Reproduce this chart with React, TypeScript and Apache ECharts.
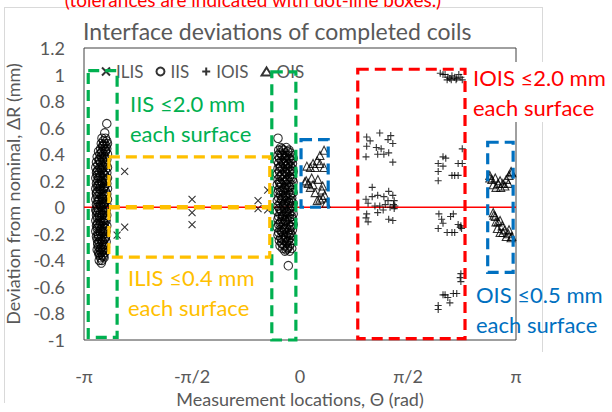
import React, { useEffect, useRef } from "react";
import * as echarts from "echarts";

const PI = Math.PI;
const TITLE = "Interface deviations of completed coils";
const NOTE = "(tolerances are indicated with dot-line boxes.)";
const X_NAME = "Measurement locations, Θ (rad)";
const Y_NAME = "Deviation from nominal, ΔR (mm)";
const X_TICK_LABELS = ["-π", "-π/2", "0", "π/2", "π"];
const SERIES_NAMES = ["ILIS", "IIS", "IOIS", "OIS"];

// ILIS (x markers)
const ILIS: number[][] = [
  [-2.55, 0.27], [-2.55, -0.15], [-2.66, -0.21], [-1.57, 0.06], [-1.57, -0.04],
  [-1.57, -0.13], [-0.47, 0.13], [-0.61, 0.05], [-0.61, -0.01], [-0.47, -0.02],
];

// IIS (circles) cluster near -pi
const IIS_A: number[][] = [
  [-2.81, 0.63], [-2.84, 0.56], [-2.83, 0.52], [-2.88, 0.52], [-2.81, 0.50], [-2.86, 0.50],
  [-2.84, 0.48], [-2.89, 0.48], [-2.80, 0.48], [-2.82, 0.46], [-2.87, 0.46],
  [-2.85, 0.44], [-2.90, 0.44], [-2.81, 0.44], [-2.83, 0.42], [-2.88, 0.42], [-2.93, 0.42],
  [-2.80, 0.40], [-2.86, 0.40], [-2.91, 0.40], [-2.84, 0.38], [-2.89, 0.38], [-2.95, 0.38],
  [-2.81, 0.36], [-2.87, 0.36], [-2.92, 0.36], [-2.85, 0.34], [-2.90, 0.34], [-2.96, 0.34],
  [-2.82, 0.32], [-2.88, 0.32], [-2.94, 0.32],
  [-2.80, 0.30], [-2.86, 0.30], [-2.91, 0.30], [-2.97, 0.30],
  [-2.83, 0.28], [-2.89, 0.28], [-2.94, 0.28],
  [-2.81, 0.26], [-2.87, 0.26], [-2.92, 0.26], [-2.96, 0.26],
  [-2.84, 0.24], [-2.90, 0.24], [-2.95, 0.24],
  [-2.80, 0.22], [-2.86, 0.22], [-2.93, 0.22], [-2.97, 0.22],
  [-2.83, 0.20], [-2.89, 0.20], [-2.94, 0.20],
  [-2.81, 0.18], [-2.87, 0.18], [-2.91, 0.18], [-2.96, 0.18],
  [-2.84, 0.16], [-2.90, 0.16], [-2.95, 0.16],
  [-2.80, 0.14], [-2.86, 0.14], [-2.92, 0.14], [-2.97, 0.14],
  [-2.83, 0.12], [-2.88, 0.12], [-2.94, 0.12],
  [-2.81, 0.10], [-2.86, 0.10], [-2.91, 0.10], [-2.96, 0.10],
  [-2.84, 0.08], [-2.89, 0.08], [-2.95, 0.08],
  [-2.80, 0.06], [-2.87, 0.06], [-2.92, 0.06], [-2.97, 0.06],
  [-2.83, 0.04], [-2.88, 0.04], [-2.94, 0.04],
  [-2.81, 0.02], [-2.86, 0.02], [-2.91, 0.02], [-2.96, 0.02],
  [-2.84, 0.00], [-2.89, 0.00], [-2.95, 0.00],
  [-2.82, -0.02], [-2.87, -0.02], [-2.93, -0.02], [-2.97, -0.02],
  [-2.85, -0.04], [-2.90, -0.04], [-2.94, -0.04],
  [-2.81, -0.06], [-2.88, -0.06], [-2.92, -0.06], [-2.96, -0.06],
  [-2.84, -0.08], [-2.89, -0.08], [-2.95, -0.08],
  [-2.82, -0.10], [-2.86, -0.10], [-2.91, -0.10], [-2.97, -0.10],
  [-2.85, -0.12], [-2.90, -0.12], [-2.94, -0.12],
  [-2.81, -0.14], [-2.87, -0.14], [-2.92, -0.14], [-2.96, -0.14],
  [-2.84, -0.16], [-2.89, -0.16], [-2.95, -0.16],
  [-2.82, -0.18], [-2.86, -0.18], [-2.91, -0.18], [-2.97, -0.18],
  [-2.85, -0.20], [-2.90, -0.20], [-2.94, -0.20],
  [-2.83, -0.22], [-2.88, -0.22], [-2.93, -0.22], [-2.96, -0.22],
  [-2.85, -0.24], [-2.90, -0.24], [-2.95, -0.24],
  [-2.82, -0.26], [-2.87, -0.26], [-2.92, -0.26],
  [-2.85, -0.28], [-2.89, -0.28], [-2.94, -0.28],
  [-2.83, -0.30], [-2.88, -0.30], [-2.93, -0.30],
  [-2.86, -0.32], [-2.91, -0.32], [-2.95, -0.32],
  [-2.84, -0.34], [-2.89, -0.34], [-2.93, -0.34],
  [-2.87, -0.36], [-2.92, -0.36], [-2.85, -0.38], [-2.90, -0.38],
  [-2.88, -0.40], [-2.92, -0.40], [-2.89, -0.42],
  [-2.86, 0.47], [-2.83, 0.43], [-2.89, 0.41], [-2.85, 0.37], [-2.92, 0.35], [-2.83, 0.33],
  [-2.88, 0.29], [-2.95, 0.27], [-2.85, 0.25], [-2.91, 0.23], [-2.82, 0.21], [-2.88, 0.19],
  [-2.93, 0.17], [-2.85, 0.15], [-2.90, 0.13], [-2.96, 0.11], [-2.82, 0.09], [-2.87, 0.07],
  [-2.93, 0.05], [-2.85, 0.03], [-2.90, 0.01], [-2.82, -0.01], [-2.96, -0.03], [-2.87, -0.05],
  [-2.92, -0.07], [-2.83, -0.09], [-2.88, -0.11], [-2.95, -0.13], [-2.84, -0.15], [-2.90, -0.17],
  [-2.87, -0.19], [-2.93, -0.21], [-2.83, -0.23], [-2.88, -0.25], [-2.94, -0.27], [-2.86, -0.29],
  [-2.90, -0.31], [-2.87, -0.33], [-2.91, -0.35], [-2.86, -0.37],
];

// IIS cluster just below 0
const IIS_B: number[][] = [
  [-0.32, 0.52], [-0.17, -0.44],
  [-0.28, 0.45], [-0.20, 0.45],
  [-0.31, 0.43], [-0.24, 0.43], [-0.16, 0.43],
  [-0.29, 0.41], [-0.22, 0.41], [-0.14, 0.41],
  [-0.32, 0.39], [-0.26, 0.39], [-0.19, 0.39], [-0.12, 0.39],
  [-0.30, 0.37], [-0.23, 0.37], [-0.16, 0.37], [-0.10, 0.37],
  [-0.33, 0.35], [-0.27, 0.35], [-0.20, 0.35], [-0.13, 0.35],
  [-0.31, 0.33], [-0.24, 0.33], [-0.17, 0.33], [-0.11, 0.33],
  [-0.28, 0.31], [-0.21, 0.31], [-0.14, 0.31],
  [-0.32, 0.29], [-0.25, 0.29], [-0.18, 0.29], [-0.11, 0.29],
  [-0.30, 0.27], [-0.23, 0.27], [-0.16, 0.27], [-0.10, 0.27],
  [-0.33, 0.25], [-0.26, 0.25], [-0.19, 0.25], [-0.12, 0.25],
  [-0.29, 0.23], [-0.22, 0.23], [-0.15, 0.23],
  [-0.32, 0.21], [-0.25, 0.21], [-0.18, 0.21], [-0.11, 0.21],
  [-0.30, 0.19], [-0.23, 0.19], [-0.16, 0.19], [-0.10, 0.19],
  [-0.33, 0.17], [-0.27, 0.17], [-0.20, 0.17], [-0.13, 0.17],
  [-0.29, 0.15], [-0.22, 0.15], [-0.15, 0.15],
  [-0.31, 0.13], [-0.25, 0.13], [-0.18, 0.13], [-0.11, 0.13],
  [-0.32, 0.11], [-0.24, 0.11], [-0.17, 0.11], [-0.10, 0.11],
  [-0.28, 0.09], [-0.21, 0.09], [-0.14, 0.09],
  [-0.31, 0.07], [-0.25, 0.07], [-0.19, 0.07], [-0.12, 0.07],
  [-0.33, 0.05], [-0.26, 0.05], [-0.20, 0.05], [-0.13, 0.05],
  [-0.29, 0.03], [-0.22, 0.03], [-0.15, 0.03], [-0.10, 0.03],
  [-0.32, 0.01], [-0.24, 0.01], [-0.17, 0.01], [-0.11, 0.01],
  [-0.30, -0.01], [-0.23, -0.01], [-0.16, -0.01],
  [-0.33, -0.03], [-0.27, -0.03], [-0.20, -0.03], [-0.13, -0.03],
  [-0.29, -0.05], [-0.22, -0.05], [-0.15, -0.05], [-0.10, -0.05],
  [-0.31, -0.07], [-0.25, -0.07], [-0.18, -0.07], [-0.12, -0.07],
  [-0.32, -0.09], [-0.26, -0.09], [-0.19, -0.09], [-0.11, -0.09],
  [-0.28, -0.11], [-0.21, -0.11], [-0.14, -0.11],
  [-0.31, -0.13], [-0.24, -0.13], [-0.17, -0.13], [-0.10, -0.13],
  [-0.33, -0.15], [-0.26, -0.15], [-0.20, -0.15], [-0.13, -0.15],
  [-0.29, -0.17], [-0.22, -0.17], [-0.15, -0.17], [-0.11, -0.17],
  [-0.31, -0.19], [-0.25, -0.19], [-0.18, -0.19],
  [-0.32, -0.21], [-0.24, -0.21], [-0.16, -0.21], [-0.12, -0.21],
  [-0.28, -0.23], [-0.21, -0.23], [-0.14, -0.23],
  [-0.30, -0.25], [-0.23, -0.25], [-0.17, -0.25], [-0.11, -0.25],
  [-0.27, -0.27], [-0.20, -0.27], [-0.13, -0.27],
  [-0.29, -0.29], [-0.22, -0.29], [-0.15, -0.29],
  [-0.25, -0.31], [-0.18, -0.31], [-0.12, -0.31],
  [-0.22, -0.33], [-0.15, -0.33],
  [-0.26, 0.44], [-0.18, 0.42], [-0.27, 0.40], [-0.21, 0.38], [-0.14, 0.36], [-0.25, 0.34],
  [-0.18, 0.32], [-0.29, 0.30], [-0.14, 0.28], [-0.21, 0.26], [-0.27, 0.24], [-0.13, 0.22],
  [-0.20, 0.20], [-0.29, 0.18], [-0.16, 0.16], [-0.23, 0.14], [-0.28, 0.12], [-0.14, 0.10],
  [-0.21, 0.08], [-0.27, 0.06], [-0.17, 0.04], [-0.24, 0.02], [-0.13, 0.00], [-0.28, -0.02],
  [-0.19, -0.04], [-0.25, -0.06], [-0.15, -0.08], [-0.22, -0.10], [-0.29, -0.12], [-0.14, -0.14],
  [-0.23, -0.16], [-0.27, -0.18], [-0.14, -0.20], [-0.20, -0.22], [-0.26, -0.24], [-0.19, -0.26],
  [-0.25, -0.28], [-0.18, -0.30], [-0.20, -0.32],
];

// IOIS (plus markers)
const IOIS: number[][] = [
  [1.16, 0.56], [0.97, 0.53], [1.02, 0.50], [1.32, 0.54], [1.28, 0.51], [1.35, 0.48],
  [0.97, 0.46], [1.11, 0.45], [1.18, 0.44], [0.96, 0.38], [1.13, 0.40], [1.22, 0.40],
  [1.29, 0.41], [1.35, 0.34],
  [1.05, 0.15], [0.96, 0.06], [1.05, 0.08], [1.13, 0.09], [1.22, 0.08], [1.29, 0.12],
  [1.35, 0.09], [1.28, 0.05], [1.37, 0.05], [0.99, 0.03], [1.09, 0.01], [1.16, 0.01],
  [1.24, 0.02], [1.31, 0.00], [1.38, 0.01], [0.97, -0.05], [1.13, -0.04], [1.21, -0.02],
  [0.96, -0.08], [0.99, -0.11], [1.29, -0.09], [1.35, -0.10], [1.36, 0.02], [1.37, -0.01],
  [2.04, 1.01], [2.08, 1.00], [2.11, 1.00], [2.15, 0.98], [2.18, 0.97], [2.21, 0.99],
  [2.25, 0.98], [2.28, 0.97], [2.31, 1.00], [2.34, 0.98], [2.36, 0.96], [2.14, 0.96],
  [2.20, 0.96], [2.27, 0.96],
  [2.36, 0.44], [2.08, 0.38], [2.12, 0.37], [2.01, 0.33], [2.08, 0.31], [2.30, 0.33],
  [2.36, 0.33], [2.01, 0.27], [2.21, 0.24], [2.25, 0.24], [2.30, 0.24], [2.01, 0.20],
  [2.02, -0.05], [2.23, -0.05], [2.06, -0.09], [2.19, -0.07], [2.08, -0.12], [2.01, -0.16],
  [2.30, -0.13], [2.33, -0.15], [2.14, -0.19], [2.21, -0.19], [2.25, -0.19], [2.35, -0.16],
  [2.34, -0.14],
  [2.33, -0.53], [2.34, -0.56], [2.34, -0.50], [2.08, -0.66], [2.15, -0.68], [2.23, -0.65],
  [2.28, -0.65], [2.18, -0.72], [2.01, -0.74], [2.01, -0.77], [2.11, -0.66],
];

// OIS (triangles)
const OIS: number[][] = [
  [0.35, 0.43], [0.29, 0.39], [0.25, 0.35], [0.19, 0.33], [0.10, 0.31], [0.22, 0.30],
  [0.15, 0.30], [0.29, 0.33], [0.09, 0.20], [0.12, 0.18], [0.19, 0.17], [0.26, 0.21],
  [0.32, 0.13], [0.36, 0.09], [0.22, 0.11], [0.15, 0.15], [0.38, 0.03], [0.29, 0.06],
  [0.35, 0.30], [0.17, 0.22], [0.07, 0.19], [0.33, 0.16], [0.25, 0.05], [0.33, 0.07],
  [2.76, 0.24], [2.79, 0.21], [2.84, 0.22], [2.88, 0.18], [2.91, 0.20], [2.95, 0.18],
  [3.00, 0.21], [3.04, 0.24], [3.07, 0.27], [2.85, 0.15], [2.92, 0.15], [2.98, 0.16],
  [2.81, 0.17], [3.03, 0.18], [3.08, 0.26], [2.76, 0.22],
  [2.81, -0.04], [2.84, -0.07], [2.88, -0.11], [2.94, -0.14], [2.98, -0.17], [3.03, -0.20],
  [3.07, -0.23], [2.91, -0.19], [2.87, -0.16], [2.82, -0.06], [2.95, -0.19], [3.04, -0.17],
  [3.00, -0.22], [3.08, -0.22], [2.91, -0.10], [2.85, -0.11],
];

// Tolerance boxes [x0, x1, y0, y1] in data units
const BOX_RANGES: number[][] = [
  [-3.08, -2.66, -0.98, 1.03],
  [-0.41, -0.06, -1.0, 1.02],
  [-2.78, -0.44, -0.375, 0.38],
  [0.015, 0.41, 0.0, 0.51],
  [0.84, 2.4, -0.99, 1.04],
  [2.73, 3.1, -0.49, 0.49],
];
const BOX_COLORS = ["#00B050", "#00B050", "#FFC000", "#0070C0", "#FF0000", "#0070C0"];
const ORANGE_MID: number[][] = [[-2.78, 0], [-0.44, 0]];
const ZERO_LINE: number[][] = [[-PI, 0], [PI, 0]];

const FONT = "Lato, 'Open Sans', sans-serif";
const GRAY = "#595959";

export default function App() {
  const ref = useRef<HTMLDivElement>(null);
  useEffect(() => {
    if (!ref.current) return;
    const chart = echarts.init(ref.current, undefined, { renderer: "svg" });
    const symbolBase = {
      type: "scatter" as const,
      z: 3,
      itemStyle: { color: "transparent", borderColor: "#000", borderWidth: 1.1 },
    };
    const option: any = {
      animation: false,
      textStyle: { fontFamily: FONT },
      grid: {
        left: 84, top: 48, width: 432, height: 292, show: true, containLabel: false,
        outerBoundsMode: "none",
        borderColor: "#404040", borderWidth: 1, backgroundColor: "transparent",
      },
      legend: {
        data: SERIES_NAMES,
        left: 101, top: 63, padding: 0, itemGap: 12, itemWidth: 10, itemHeight: 8,
        textStyle: { color: GRAY, fontSize: 17, fontFamily: FONT },
      },
      xAxis: {
        type: "value", min: -PI, max: PI, interval: PI / 2,
        axisLine: { show: false }, axisTick: { show: false }, splitLine: { show: false },
        axisLabel: {
          color: GRAY, fontSize: 18, margin: 27, fontFamily: FONT,
          formatter: (v: number) => {
            const k = Math.round(v / (PI / 2)) + 2;
            return X_TICK_LABELS[k] ?? "";
          },
        },
        name: X_NAME, nameLocation: "middle", nameGap: 49,
        nameTextStyle: { color: GRAY, fontSize: 18, fontFamily: FONT },
      },
      yAxis: {
        type: "value", min: -1, max: 1.2, interval: 0.2,
        axisLine: { show: false }, axisTick: { show: false }, splitLine: { show: false },
        axisLabel: {
          color: GRAY, fontSize: 18, margin: 19, fontFamily: FONT,
          formatter: (v: number) => String(Number(v.toFixed(1))),
        },
        name: Y_NAME, nameLocation: "middle", nameGap: 58, nameRotate: 90,
        nameTextStyle: { color: GRAY, fontSize: 18, fontFamily: FONT },
      },
      series: [
        {
          type: "line", data: ZERO_LINE, symbol: "none", z: 1, silent: true,
          lineStyle: { color: "#FF0000", width: 1.5 },
        },
        { ...symbolBase, name: "ILIS", data: ILIS, symbol: "path://M0,0L10,10M10,0L0,10", symbolSize: 7 },
        { ...symbolBase, name: "IIS", data: [...IIS_A, ...IIS_B], symbol: "circle", symbolSize: 8.5 },
        { ...symbolBase, name: "IOIS", data: IOIS, symbol: "path://M5,0L5,10M0,5L10,5", symbolSize: 7 },
        { ...symbolBase, name: "OIS", data: OIS, symbol: "triangle", symbolSize: 8 },
        {
          type: "custom", z: 5, silent: true, clip: false,
          data: BOX_RANGES.map((b) => [b[0], b[2], b[1], b[3]]),
          encode: { x: [0, 2], y: [1, 3] },
          renderItem: (params: any, api: any) => {
            const i = params.dataIndex;
            const p0 = api.coord([api.value(0), api.value(3)]);
            const p1 = api.coord([api.value(2), api.value(1)]);
            const children: any[] = [
              {
                type: "rect",
                shape: { x: p0[0], y: p0[1], width: p1[0] - p0[0], height: p1[1] - p0[1] },
                style: { fill: "none", stroke: BOX_COLORS[i], lineWidth: 3.2, lineDash: [11, 6] },
              },
            ];
            if (i === 2) {
              const m0 = api.coord(ORANGE_MID[0]);
              const m1 = api.coord(ORANGE_MID[1]);
              children.push({
                type: "line",
                shape: { x1: m0[0], y1: m0[1], x2: m1[0], y2: m1[1] },
                style: { stroke: BOX_COLORS[i], lineWidth: 4.5, lineDash: [11, 6] },
              });
            }
            return { type: "group", children };
          },
        },
      ],
      graphic: [
        { type: "line", z: 0, shape: { x1: 4.5, y1: 7, x2: 4.5, y2: 403 }, style: { stroke: "#D9D9D9", lineWidth: 1 } },
        { type: "line", z: 0, shape: { x1: 4.5, y1: 7.5, x2: 542.5, y2: 7.5 }, style: { stroke: "#D9D9D9", lineWidth: 1 } },
        { type: "line", z: 0, shape: { x1: 542.5, y1: 7, x2: 542.5, y2: 352 }, style: { stroke: "#D9D9D9", lineWidth: 1 } },
        {
          type: "text", x: 253, y: 9, z: 10,
          style: { text: NOTE, fill: "#FF0000", fontSize: 19, fontFamily: FONT, align: "center", verticalAlign: "bottom" },
        },
        {
          type: "text", x: 83, y: 31, z: 10,
          style: { text: TITLE, fill: GRAY, fontSize: 23, fontFamily: FONT, align: "left", verticalAlign: "middle" },
        },
        {
          type: "text", x: 130, y: 88, z: 10,
          style: { text: "IIS ≤2.0 mm\neach surface", fill: "#00B050", fontSize: 22, lineHeight: 30, fontFamily: FONT, verticalAlign: "top" },
        },
        {
          type: "text", x: 128, y: 262, z: 10,
          style: { text: "ILIS ≤0.4 mm\neach surface", fill: "#FFC000", fontSize: 22, lineHeight: 30, fontFamily: FONT, verticalAlign: "top" },
        },
        {
          type: "text", x: 473, y: 62, z: 10,
          style: { text: "IOIS ≤2.0 mm\neach surface", fill: "#FF0000", fontSize: 22, lineHeight: 30, fontFamily: FONT, verticalAlign: "top", backgroundColor: "#fff" },
        },
        {
          type: "text", x: 476, y: 279, z: 10,
          style: { text: "OIS ≤0.5 mm\neach surface", fill: "#0070C0", fontSize: 22, lineHeight: 30, fontFamily: FONT, verticalAlign: "top" },
        },
      ],
    };
    chart.setOption(option);
    return () => chart.dispose();
  }, []);
  return <div ref={ref} style={{ position: "fixed", left: 0, top: 0, width: 612, height: 412, background: "#fff" }} />;
}
